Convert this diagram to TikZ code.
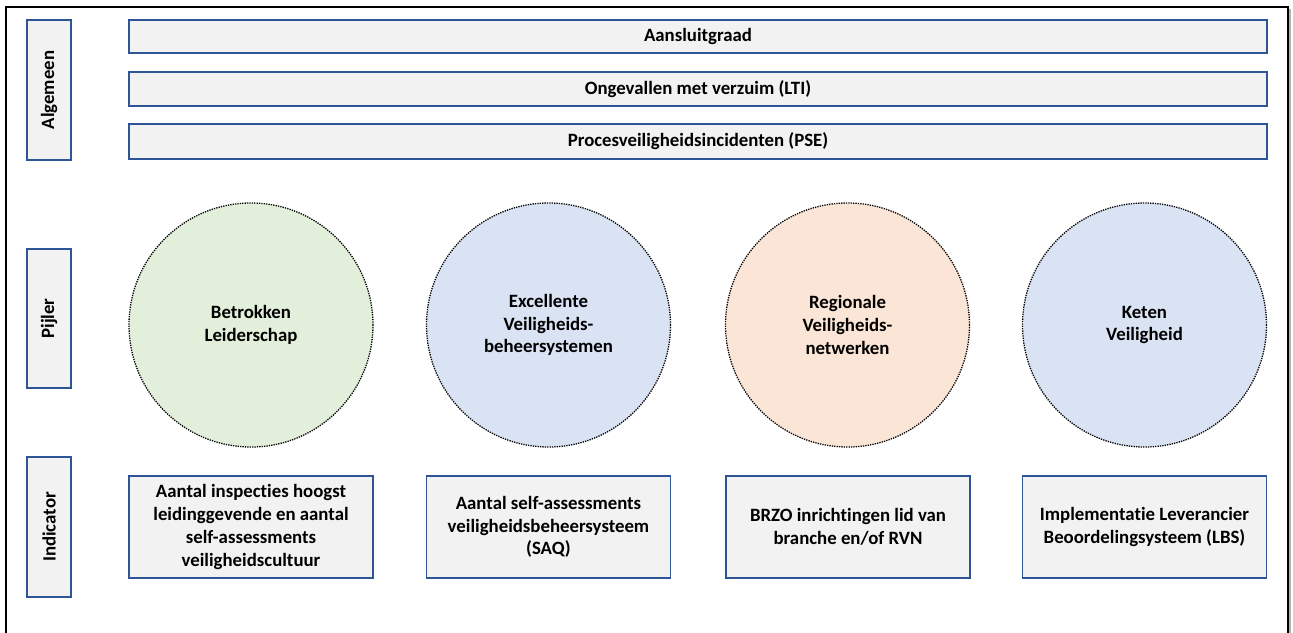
\documentclass[tikz,border=0pt]{standalone}
\usepackage{fontspec}
\setmainfont{Carlito}[Ligatures={NoCommon}]
\definecolor{boxfill}{HTML}{F2F2F2}
\definecolor{boxline}{HTML}{2F5597}
\definecolor{cgreen}{HTML}{E2EFDA}
\definecolor{cblue}{HTML}{DAE3F3}
\definecolor{corange}{HTML}{FBE5D6}
\tikzset{
  lbl/.style={font=\fontsize{18.8}{22.7}\selectfont\bfseries, text=black},
  bar/.style={lbl, draw=boxline, fill=boxfill, line width=1.6pt, minimum width=1138pt, inner sep=0pt, align=center},
  sidebox/.style={lbl, draw=boxline, fill=boxfill, line width=1.6pt, minimum width=44pt, inner sep=0pt},
  indbox/.style={lbl, draw=boxline, fill=boxfill, line width=1.6pt, minimum width=244pt, minimum height=102pt, inner sep=0pt, align=center},
  pillar/.style={lbl, circle, draw=black, line width=1.3pt, dash pattern=on 1.3pt off 1.1pt, minimum size=244pt, inner sep=0pt, align=center},
}
\begin{document}
\begin{tikzpicture}[x=1pt,y=-1pt]
\useasboundingbox (0,0) rectangle (1293,632);
\fill[white] (0,0) rectangle (1293,632);
\draw[gray!60, line width=1.5pt] (1290,9) -- (1290,640);
\draw[black, line width=1.2pt] (6,7) rectangle (1288,640);
% side labels
\node[sidebox, minimum height=140pt] (alg) at (49,90) {};
\node[lbl, rotate=90] (algt) at (alg.center) {Algemeen};
\node[sidebox, minimum height=139pt] (pij) at (49,318.5) {};
\node[lbl, rotate=90] (pijt) at (pij.center) {Pijler};
\node[sidebox, minimum height=140pt] (ind) at (49,527) {};
\node[lbl, rotate=90] (indt) at (ind.center) {Indicator};
% top bars
\node[bar, minimum height=33pt] (b1) at (698,36.5) {Aansluitgraad};
\node[bar, minimum height=34pt] (b2) at (698,89) {Ongevallen met verzuim (LTI)};
\node[bar, minimum height=35pt] (b3) at (698,141.5) {Procesveiligheidsincidenten (PSE)};
% pillars
\node[pillar, fill=cgreen] (p1) at (251,325) {Betrokken\\Leiderschap};
\node[pillar, fill=cblue] (p2) at (548.5,325) {Excellente\\Veiligheids-\\beheersystemen};
\node[pillar, fill=corange] (p3) at (847.5,325) {Regionale\\Veiligheids-\\netwerken};
\node[pillar, fill=cblue] (p4) at (1144.5,325) {Keten\\Veiligheid};
% indicators
\node[indbox] (i1) at (251,527) {Aantal inspecties hoogst\\leidinggevende en aantal\\self-assessments\\veiligheidscultuur};
\node[indbox] (i2) at (548.5,527) {Aantal self-assessments\\veiligheidsbeheersysteem\\(SAQ)};
\node[indbox] (i3) at (848,527) {BRZO inrichtingen lid van\\branche en/of RVN};
\node[indbox] (i4) at (1144.5,527) {Implementatie Leverancier\\Beoordelingsysteem (LBS)};
\end{tikzpicture}
\end{document}
